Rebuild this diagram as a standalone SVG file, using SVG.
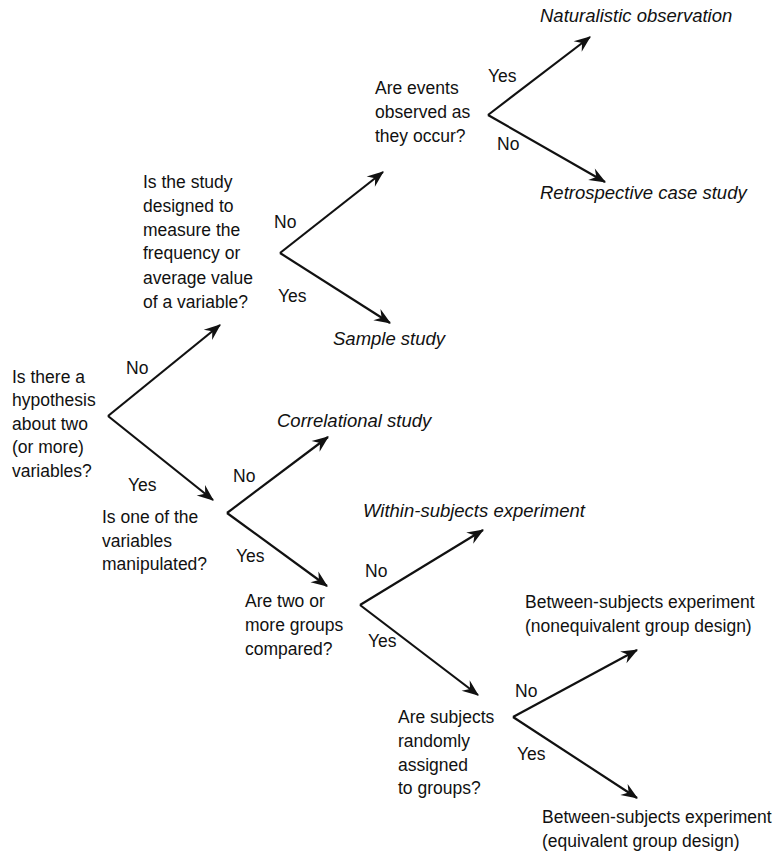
<svg xmlns="http://www.w3.org/2000/svg" width="782" height="855" viewBox="0 0 782 855">
<style>
text{font-family:"Liberation Sans",Arial,sans-serif;font-size:17.5px;fill:#111}
.it{font-style:italic;font-size:18.5px}
.c{stroke:#111;stroke-width:2.2;fill:none;marker-end:url(#ah)}
</style>
<defs>
<marker id="ah" markerUnits="userSpaceOnUse" markerWidth="20" markerHeight="20" viewBox="-16 -8 18 16" refX="0" refY="0" orient="auto">
<path d="M1,0 L-14,-6 L-9,0 L-14,6 Z" fill="#111"/>
</marker>
</defs>
<rect width="782" height="855" fill="#fff"/>
<g id="connectors">
<path class="c" d="M108,416 L220,325"/>
<path class="c" d="M108,416 L213,500"/>
<path class="c" d="M280,253 L383,172"/>
<path class="c" d="M280,253 L390,323"/>
<path class="c" d="M488,115 L590,37"/>
<path class="c" d="M488,115 L605,182"/>
<path class="c" d="M227,513 L328,437"/>
<path class="c" d="M227,513 L327,586"/>
<path class="c" d="M360,605 L483,530"/>
<path class="c" d="M360,605 L478,695"/>
<path class="c" d="M513,717 L637,650"/>
<path class="c" d="M513,717 L637,798"/>
</g>
<g id="labels">
<text x="126" y="374">No</text>
<text x="128" y="491">Yes</text>
<text x="274" y="228">No</text>
<text x="278" y="302">Yes</text>
<text x="488" y="82">Yes</text>
<text x="497" y="150">No</text>
<text x="233" y="482">No</text>
<text x="236" y="562">Yes</text>
<text x="365" y="577">No</text>
<text x="368" y="647">Yes</text>
<text x="515" y="697">No</text>
<text x="517" y="760">Yes</text>
</g>
<g id="q1">
<text x="12" y="383">Is there a</text>
<text x="12" y="406">hypothesis</text>
<text x="12" y="430">about two</text>
<text x="12" y="453">(or more)</text>
<text x="12" y="477">variables?</text>
</g>
<g id="q2">
<text x="143" y="188">Is the study</text>
<text x="143" y="212">designed to</text>
<text x="143" y="236">measure the</text>
<text x="143" y="259">frequency or</text>
<text x="143" y="284">average value</text>
<text x="143" y="308">of a variable?</text>
</g>
<g id="q3">
<text x="375" y="94">Are events</text>
<text x="375" y="118">observed as</text>
<text x="375" y="142">they occur?</text>
</g>
<g id="q4">
<text x="102" y="523">Is one of the</text>
<text x="102" y="547">variables</text>
<text x="102" y="570">manipulated?</text>
</g>
<g id="q5">
<text x="245" y="607">Are two or</text>
<text x="245" y="631">more groups</text>
<text x="245" y="655">compared?</text>
</g>
<g id="q6">
<text x="398" y="723">Are subjects</text>
<text x="398" y="747">randomly</text>
<text x="398" y="771">assigned</text>
<text x="398" y="794">to groups?</text>
</g>
<g id="r-naturalistic"><text class="it" x="540" y="22">Naturalistic observation</text></g>
<g id="r-retrospective"><text class="it" x="540" y="199">Retrospective case study</text></g>
<g id="r-sample"><text class="it" x="333" y="345">Sample study</text></g>
<g id="r-correlational"><text class="it" x="277" y="427">Correlational study</text></g>
<g id="r-within"><text class="it" x="363" y="517">Within-subjects experiment</text></g>
<g id="r-nonequivalent">
<text x="525" y="608">Between-subjects experiment</text>
<text x="525" y="632">(nonequivalent group design)</text>
</g>
<g id="r-equivalent">
<text x="542" y="823">Between-subjects experiment</text>
<text x="542" y="847">(equivalent group design)</text>
</g>
</svg>
